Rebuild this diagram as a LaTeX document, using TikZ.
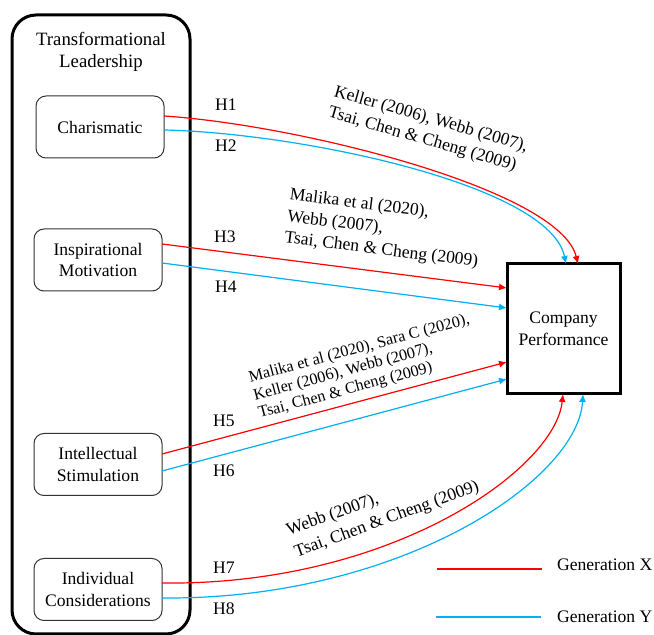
\documentclass[tikz,border=0pt]{standalone}
\usepackage{fontspec}
\setmainfont{Liberation Serif}
\usetikzlibrary{arrows.meta}
\definecolor{gen_red}{RGB}{255, 0, 0}
\definecolor{gen_blue}{RGB}{0, 176, 240}
\tikzstyle{outer}=[draw=black,line width=1.5pt,rounded corners=12pt,
  minimum width=89pt,minimum height=309.5pt]
\tikzstyle{dim}=[draw=black!80,line width=0.5pt,rounded corners=5pt,align=center,
  inner sep=1pt,minimum width=64pt,minimum height=31pt]
\tikzstyle{perf}=[draw=black,line width=1.5pt,align=center,
  minimum width=56.5pt,minimum height=65pt]
\tikzstyle{cite}=[align=left,inner sep=0pt]
\tikzstyle{small}=[font=\fontsize{8.1}{9.2}\selectfont]
\tikzstyle{genx}=[draw=gen_red,line width=0.6pt,-{Latex[length=4pt,width=3.5pt]}]
\tikzstyle{geny}=[draw=gen_blue,line width=0.6pt,-{Latex[length=4pt,width=3.5pt]}]
\tikzstyle{none}=[]

\begin{document}
\begin{tikzpicture}[x=0.5pt,y=-0.5pt,font=\fontsize{8.8}{10.8}\selectfont]
            \useasboundingbox (0, 0) rectangle (654, 635);
            \node [style=outer] (0) at (101, 324.5) {};
            \node [style=none, align=center, font=\fontsize{9.4}{11}\selectfont] (1) at (101, 52) {Transformational\\Leadership};
            \node [style=dim] (2) at (100, 127) {Charismatic};
            \node [style=dim] (3) at (98, 260) {Inspirational\\Motivation};
            \node [style=dim] (4) at (98, 464.5) {Intellectual\\Stimulation};
            \node [style=dim] (5) at (98, 589.5) {Individual\\Considerations};
            \node [style=perf] (6) at (563.5, 329) {Company\\Performance};
            \node [style=none] (7) at (226, 105) {H1};
            \node [style=none] (8) at (226, 146) {H2};
            \node [style=none] (9) at (225, 237) {H3};
            \node [style=none] (10) at (226, 287) {H4};
            \node [style=none] (11) at (224, 421) {H5};
            \node [style=none] (12) at (224, 471) {H6};
            \node [style=none] (13) at (224, 568) {H7};
            \node [style=none] (14) at (224, 609) {H8};
            \node [style=cite, rotate=-16] (15) at (428, 130) {Keller (2006), Webb (2007),\\Tsai, Chen \& Cheng (2009)};
            \node [style=cite, rotate=-7] (16) at (384, 229) {Malika et al (2020),\\Webb (2007),\\Tsai, Chen \& Cheng (2009)};
            \node [style=cite, style=small, rotate=15] (17) at (364, 367) {Malika et al (2020), Sara C (2020),\\Keller (2006), Webb (2007),\\Tsai, Chen \& Cheng (2009)};
            \node [style=cite, rotate=20, font=\fontsize{8.8}{11.5}\selectfont] (18) at (383, 509) {Webb (2007),\\Tsai, Chen \& Cheng (2009)};
            \node [style=none] (20) at (164, 116) {};
            \node [style=none] (21) at (578, 264) {};
            \node [style=none] (22) at (164, 130) {};
            \node [style=none] (23) at (566, 264) {};
            \node [style=none] (24) at (162, 244) {};
            \node [style=none] (25) at (507, 288) {};
            \node [style=none] (26) at (162, 263) {};
            \node [style=none] (27) at (507, 308) {};
            \node [style=none] (28) at (162, 454) {};
            \node [style=none] (29) at (507, 362) {};
            \node [style=none] (30) at (162, 471) {};
            \node [style=none] (31) at (507, 379) {};
            \node [style=none] (32) at (162, 583) {};
            \node [style=none] (33) at (563, 394) {};
            \node [style=none] (34) at (162, 598) {};
            \node [style=none] (35) at (583, 394) {};
            \node [style=none] (36) at (437, 569) {};
            \node [style=none] (37) at (542, 569) {};
            \node [style=none] (38) at (436, 617) {};
            \node [style=none] (39) at (541, 617) {};
            \node [style=none, anchor=west] (40) at (550, 565) {Generation X};
            \node [style=none, anchor=west] (41) at (550, 617) {Generation Y};
            \draw [style=genx] (20.center) .. controls (300, 125) and (560, 190) .. (21.center);
            \draw [style=geny] (22.center) .. controls (300, 133) and (550, 185) .. (23.center);
            \draw [style=genx] (24.center) to (25.center);
            \draw [style=geny] (26.center) to (27.center);
            \draw [style=genx] (28.center) to (29.center);
            \draw [style=geny] (30.center) to (31.center);
            \draw [style=genx] (32.center) .. controls (390, 586) and (555, 470) .. (33.center);
            \draw [style=geny] (34.center) .. controls (400, 600) and (578, 480) .. (35.center);
            \draw [draw=gen_red, line width=0.6pt] (36.center) to (37.center);
            \draw [draw=gen_blue, line width=0.6pt] (38.center) to (39.center);
    \end{tikzpicture}
\end{document}
